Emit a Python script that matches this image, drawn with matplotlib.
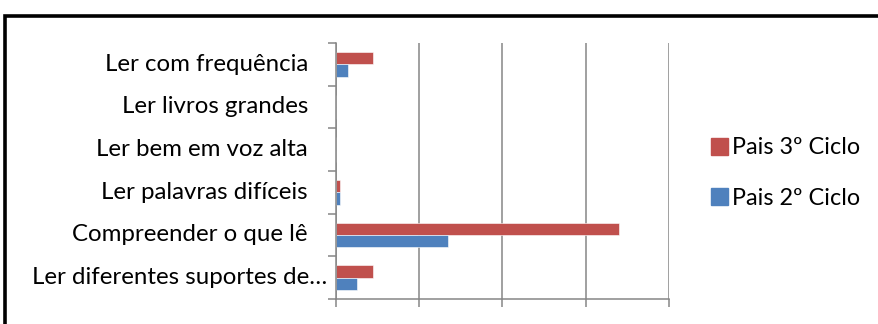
import matplotlib
matplotlib.use("Agg")
import matplotlib.pyplot as plt
from matplotlib.patches import Rectangle, Patch
import numpy as np

categories = ["Ler com frequência", "Ler livros grandes", "Ler bem em voz alta",
              "Ler palavras difíceis", "Compreender o que lê", "Ler diferentes suportes de…"]
pais_3 = [9, 0, 0, 1, 68, 9]
pais_2 = [3, 0, 0, 1, 27, 5]
series_labels = ["Pais 3º Ciclo", "Pais 2º Ciclo"]

RED = "#C0504D"
BLUE = "#4F81BD"
GRID = "#868686"
FONT = "Lato"
FS = 17.3
LFS = 16.8

W, H = 879, 324
fig = plt.figure(figsize=(W / 100, H / 100), dpi=100)
fig.patch.set_facecolor("white")

# outer frame
fig.patches.append(Rectangle((5.5 / W, -0.2), 1.2, (1 - 15.5 / H) + 0.2,
                             transform=fig.transFigure, fill=False,
                             edgecolor="black", linewidth=2.6))

l, r, t, b = 336 / W, 669 / W, 1 - 43 / H, 1 - 299 / H
ax = fig.add_axes([l, b, r - l, t - b])

y = np.arange(len(categories))
h = 0.29
ax.barh(y - h / 2, pais_3, height=h, color=RED, edgecolor="white", linewidth=0.4, label=series_labels[0])
ax.barh(y + h / 2, pais_2, height=h, color=BLUE, edgecolor="white", linewidth=0.4, label=series_labels[1])

ax.set_ylim(len(categories) - 0.5, -0.5)
ax.set_xlim(0, 80)
ax.set_xticks([0, 20, 40, 60, 80])
ax.set_xticklabels([])
ax.xaxis.grid(True, color=GRID, linewidth=1.1)
ax.set_axisbelow(True)

ax.set_yticks(np.arange(-0.5, len(categories) + 0.5, 1))
ax.set_yticklabels([])
ax.tick_params(axis="y", length=6, width=1.1, color=GRID, direction="out")
ax.tick_params(axis="x", length=6, width=1.1, color=GRID, direction="out")

for s in ["top", "right"]:
    ax.spines[s].set_visible(False)
for s in ["left", "bottom"]:
    ax.spines[s].set_color(GRID)
    ax.spines[s].set_linewidth(1.1)

trans = matplotlib.transforms.blended_transform_factory(ax.transAxes, ax.transData)
for i, c in enumerate(categories):
    xr = (308 - 336) / 333 if not c.endswith("…") else (327 - 336) / 333
    ax.text(xr, i, c, transform=trans, ha="right", va="center",
            fontsize=FS, family=FONT, color="black")

handles = [Patch(color=RED), Patch(color=BLUE)]
fig.legend(handles, series_labels, loc="center left",
           bbox_to_anchor=(690 / W, 1 - 173 / H), frameon=False,
           prop={"family": FONT, "size": LFS}, handlelength=0.72, handleheight=0.72,
           handletextpad=0.2, labelspacing=1.25)

fig.savefig("out.png", dpi=100, facecolor="white")
